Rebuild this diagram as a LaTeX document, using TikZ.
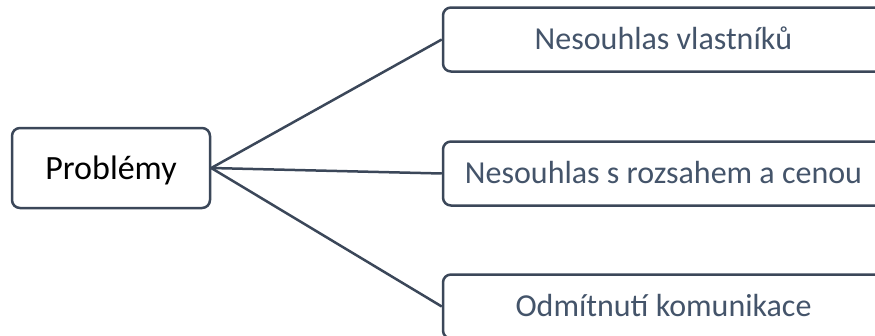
\documentclass[tikz,border=0pt]{standalone}
\usepackage{fontspec}
\setmainfont{Carlito}
\definecolor{slate}{HTML}{44546A}
\definecolor{edgeclr}{HTML}{3B4759}
\begin{document}
\begin{tikzpicture}[x=1pt,y=-1pt,
  box/.style={draw=edgeclr, line width=2.5pt, rounded corners=8pt, fill=white,
    inner sep=0pt, align=center},
  leaf/.style={box, minimum width=441pt, minimum height=64pt, text=slate,
    font=\fontsize{32}{38}\selectfont, text height=26pt, text depth=6pt},
  root/.style={box, minimum width=198pt, minimum height=80pt, text=black,
    font=\fontsize{34}{40}\selectfont, text height=28pt, text depth=5pt},
  link/.style={draw=edgeclr, line width=2.5pt}]
\useasboundingbox (0,0) rectangle (875,335);
\clip (0,0) rectangle (875,335);
% central topic
\node[root] (p) at (111,168) {Problémy};
% branches
\node[leaf] (a) at (663.5,39.5) {Nesouhlas vlastníků};
\node[leaf] (b) at (663.5,173.5) {Nesouhlas s rozsahem a cenou};
\node[leaf] (c) at (663.5,306.5) {Odmítnutí komunikace};
% connectors
\draw[link] (p.east) -- (a.west);
\draw[link] (p.east) -- (b.west);
\draw[link] (p.east) -- (c.west);
\end{tikzpicture}
\end{document}
